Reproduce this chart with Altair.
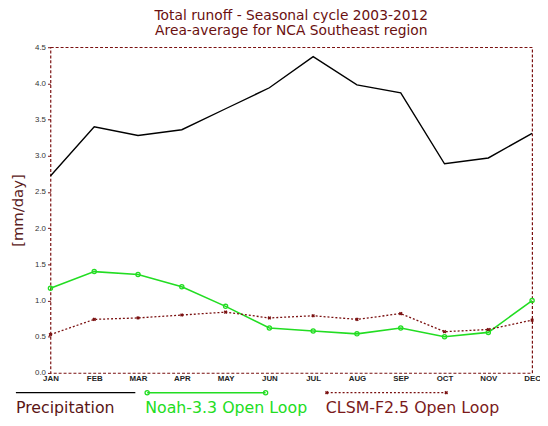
import altair as alt
import pandas as pd

months = ["JAN", "FEB", "MAR", "APR", "MAY", "JUN", "JUL", "AUG", "SEP", "OCT", "NOV", "DEC"]
precip = [2.72, 3.40, 3.28, 3.36, 3.65, 3.94, 4.37, 3.98, 3.87, 2.89, 2.97, 3.31]
noah = [1.17, 1.40, 1.36, 1.19, 0.92, 0.62, 0.58, 0.54, 0.62, 0.50, 0.56, 1.00]
clsm = [0.53, 0.74, 0.76, 0.80, 0.84, 0.76, 0.79, 0.74, 0.82, 0.57, 0.60, 0.73]
series_names = ["Precipitation", "Noah-3.3 Open Loop", "CLSM-F2.5 Open Loop"]
title_lines = ["Total runoff - Seasonal cycle 2003-2012", "Area-average for NCA Southeast region"]
y_label = "[mm/day]"
y_ticks = [0, 0.5, 1, 1.5, 2, 2.5, 3, 3.5, 4, 4.5]

W, H = 488, 330
DARKRED = "#7a1010"
GREEN = "#22dd22"

df = pd.DataFrame({"month": months, "precip": precip, "noah": noah, "clsm": clsm})
one = pd.DataFrame({"k": [0]})

x_enc = alt.X("month:N", sort=months,
              scale=alt.Scale(type="point", padding=0),
              axis=alt.Axis(title=None, labelAngle=0, labelFontSize=8, labelFontWeight="bold",
                            labelColor="#222222", labelPadding=2, ticks=False, domain=False,
                            labelFont="Liberation Sans Narrow, Liberation Sans"))
y_scale = alt.Scale(domain=[0, 4.5], nice=False)
y_axis = alt.Axis(title=y_label, values=y_ticks, format=".1f", labelOverlap=False,
                  labelFontSize=8, labelColor="#333333", tickSize=3, tickColor=DARKRED,
                  domain=False, grid=False, labelPadding=2,
                  titleFontSize=15, titleFontWeight="normal", titleColor="#5a2020",
                  titleFont="DejaVu Sans", titleX=-33, titleY=165, titleAngle=270,
                  titleAlign="center", titleBaseline="middle")


def yenc(field):
    return alt.Y(field + ":Q", scale=y_scale, axis=y_axis, title=y_label)


base = alt.Chart(df)

l_precip = base.mark_line(color="black", strokeWidth=1.4).encode(x=x_enc, y=yenc("precip"))
l_noah = base.mark_line(color=GREEN, strokeWidth=1.6).encode(x=x_enc, y=yenc("noah"))
p_noah = base.mark_point(shape="circle", filled=False, color=GREEN, size=18, strokeWidth=1.3, opacity=1).encode(
    x=x_enc, y=yenc("noah"))
l_clsm = base.mark_line(color=DARKRED, strokeWidth=1.3, strokeDash=[2, 2]).encode(x=x_enc, y=yenc("clsm"))
p_clsm = base.mark_point(shape="cross", angle=45, filled=True, color=DARKRED, size=14, opacity=1).encode(
    x=x_enc, y=yenc("clsm"))

# legend (manual, placed below the plot)
leg_y = 350
txt_y = 371
leg = []
leg.append(alt.Chart(one).mark_rule(color="black", strokeWidth=1.2).encode(
    x=alt.value(-35), x2=alt.value(86), y=alt.value(leg_y)))
leg.append(alt.Chart(one).mark_rule(color=GREEN, strokeWidth=1.6).encode(
    x=alt.value(98), x2=alt.value(218), y=alt.value(leg_y)))
for xv in (98, 218):
    leg.append(alt.Chart(one).mark_point(shape="circle", filled=False, color=GREEN, size=18,
                                          strokeWidth=1.3, opacity=1).encode(
        x=alt.value(xv), y=alt.value(leg_y)))
leg.append(alt.Chart(one).mark_rule(color=DARKRED, strokeWidth=1.2, strokeDash=[2, 2]).encode(
    x=alt.value(280), x2=alt.value(401), y=alt.value(leg_y)))
for xv in (280, 401):
    leg.append(alt.Chart(one).mark_point(shape="cross", angle=45, filled=True, color=DARKRED,
                                          size=14, opacity=1).encode(
        x=alt.value(xv), y=alt.value(leg_y)))
for name, xv, col in zip(series_names, (-35, 96, 279), ("#5a1515", GREEN, "#7a1a1a")):
    leg.append(alt.Chart(one).mark_text(text=name, align="left", baseline="alphabetic", fontSize=16,
                                         font="DejaVu Sans", fontWeight="normal", color=col).encode(
        x=alt.value(xv), y=alt.value(txt_y)))

chart = alt.layer(l_precip, l_noah, p_noah, l_clsm, p_clsm, *leg).properties(
    width=W, height=H,
    title=alt.TitleParams(text=title_lines, fontSize=14, font="DejaVu Sans", fontWeight="normal",
                          color="#6a1010", anchor="middle", offset=5, lineHeight=16),
    autosize=alt.AutoSizeParams(type="none"),
    padding={"left": 43, "top": 37, "right": 8, "bottom": 50},
).configure_view(stroke=DARKRED, strokeDash=[3, 2], strokeWidth=1.2
).configure_axisY(labelOverlap=False)

chart.save("out.html", embed_options={"renderer": "svg", "actions": False})
